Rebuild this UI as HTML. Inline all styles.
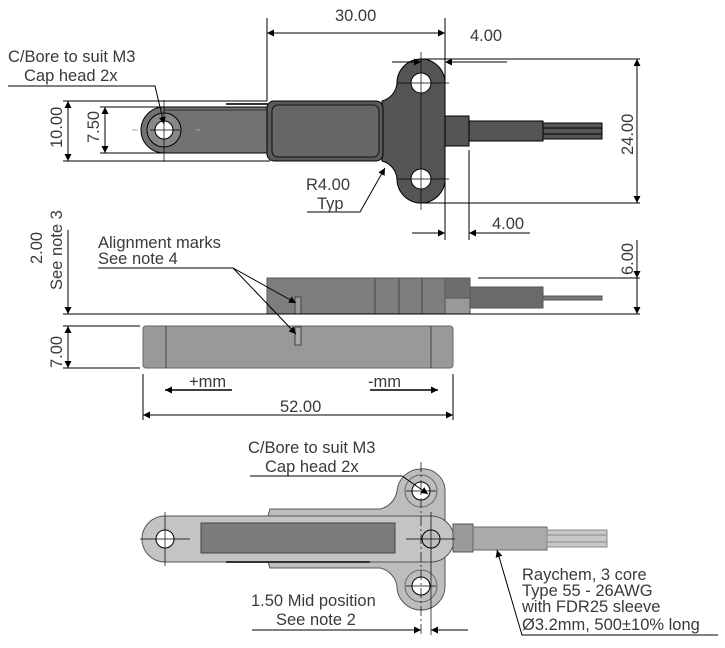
<!DOCTYPE html>
<html><head><meta charset="utf-8"><style>
html,body{margin:0;padding:0;background:#fff}
svg{display:block}
text{font-family:"Liberation Sans Narrow","Liberation Sans",sans-serif;fill:#3a3a3a;font-size:16.5px}
</style></head><body>
<svg width="725" height="648" viewBox="0 0 725 648" xmlns="http://www.w3.org/2000/svg">
<defs>
<marker id="a" viewBox="0 0 10 10" refX="10" refY="5" markerWidth="12" markerHeight="7" orient="auto-start-reverse" markerUnits="userSpaceOnUse"><path d="M0,0 L10,5 L0,10 z" fill="#000"/></marker>
</defs>
<g stroke="#000" stroke-width="1" fill="none">
<!-- ===== TOP VIEW ===== -->
<path d="M164,107 L268,107 L268,153 L164,153 A23,23 0 0 1 164,107 Z" fill="#727272"/>
<path d="M164,110 L268,110" stroke="#333"/>
<circle cx="164" cy="130" r="17" fill="#888"/>
<circle cx="164" cy="130" r="9" fill="#fff"/>
<line x1="226" y1="104" x2="268" y2="104" stroke-width="2" stroke="#333"/>
<path d="M421,59 A24,24 0 0 1 445,83 L445,116 L469,116 L469,146 L445,146 L445,179 A24,24 0 0 1 397,179 A20,20 0 0 0 382,161 L382,101 A20,20 0 0 0 397,83 A24,24 0 0 1 421,59 Z" fill="#555"/>
<rect x="267" y="101" width="116" height="60" rx="7" fill="#5a5a5a"/>
<rect x="272" y="105" width="107" height="52" rx="6" fill="#666" stroke="#111"/>
<circle cx="421" cy="83" r="10" fill="#fff"/>
<circle cx="421" cy="179" r="10" fill="#fff"/>
<rect x="469" y="121" width="74" height="20" fill="#555"/>
<rect x="543" y="123" width="59" height="16" fill="#555"/>
<line x1="543" y1="128" x2="602" y2="128"/><line x1="543" y1="134" x2="602" y2="134"/>
<line x1="164" y1="100" x2="164" y2="162" stroke-width="0.7"/>
<line x1="150" y1="130" x2="180" y2="130" stroke-width="0.7"/>
<line x1="421" y1="52" x2="421" y2="210" stroke-width="0.7"/>
<line x1="397" y1="83" x2="449" y2="83" stroke-width="0.7"/>
<line x1="397" y1="179" x2="449" y2="179" stroke-width="0.7"/>
<line x1="267" y1="18" x2="267" y2="101"/>
<line x1="445" y1="18" x2="445" y2="240"/>
<line x1="267" y1="33" x2="445" y2="33" marker-start="url(#a)" marker-end="url(#a)"/>
<line x1="392" y1="62" x2="421" y2="62" marker-end="url(#a)"/>
<line x1="507" y1="62" x2="445" y2="62" marker-end="url(#a)"/>
<line x1="421" y1="59" x2="640" y2="59"/>
<line x1="421" y1="203" x2="640" y2="203"/>
<line x1="637" y1="59" x2="637" y2="203" marker-start="url(#a)" marker-end="url(#a)"/>
<line x1="63" y1="101" x2="267" y2="101"/>
<line x1="63" y1="161" x2="270" y2="161"/>
<line x1="68" y1="101" x2="68" y2="161" marker-start="url(#a)" marker-end="url(#a)"/>
<line x1="100" y1="107" x2="164" y2="107"/>
<line x1="100" y1="153" x2="164" y2="153"/>
<line x1="105" y1="107" x2="105" y2="153" marker-start="url(#a)" marker-end="url(#a)"/>
<polyline points="8,86 155,86 164,124" marker-end="url(#a)"/>
<polyline points="307,212 360,212 385,168" marker-end="url(#a)"/>
<line x1="469" y1="150" x2="469" y2="240"/>
<line x1="412" y1="233" x2="445" y2="233" marker-end="url(#a)"/>
<line x1="530" y1="233" x2="469" y2="233" marker-end="url(#a)"/>

<!-- ===== SIDE VIEW ===== -->
<rect x="267" y="278" width="178" height="36" fill="#7e7e7e" stroke="#555"/>
<line x1="375" y1="278" x2="375" y2="314" stroke="#444"/>
<line x1="399" y1="278" x2="399" y2="314" stroke="#444"/>
<line x1="422" y1="278" x2="422" y2="314" stroke="#444"/>
<rect x="445" y="278" width="25" height="20" fill="#6e6e6e" stroke="#555"/>
<rect x="445" y="298" width="25" height="16" fill="#999" stroke="#555"/>
<rect x="470" y="287" width="73" height="21" fill="#6a6a6a" stroke="#555"/>
<rect x="543" y="296" width="59" height="4" fill="#777" stroke="#555"/>
<rect x="295" y="297" width="6" height="17" fill="#999" stroke="#444"/>
<line x1="63" y1="314" x2="640" y2="314"/>
<line x1="478" y1="278" x2="640" y2="278"/>
<line x1="637" y1="240" x2="637" y2="278" marker-end="url(#a)"/>
<line x1="637" y1="314" x2="637" y2="278"/>
<line x1="637" y1="296" x2="637" y2="314" marker-end="url(#a)"/>
<rect x="143" y="326" width="310" height="42" rx="3" fill="#999" stroke="#666"/>
<line x1="166" y1="326" x2="166" y2="368" stroke="#444"/>
<line x1="431" y1="326" x2="431" y2="368" stroke="#444"/>
<rect x="295" y="327" width="6" height="18" fill="#aaa" stroke="#444"/>
<line x1="68" y1="230" x2="68" y2="314" marker-end="url(#a)"/>
<line x1="63" y1="326" x2="140" y2="326"/>
<line x1="63" y1="368" x2="140" y2="368"/>
<line x1="68" y1="326" x2="68" y2="368" marker-start="url(#a)" marker-end="url(#a)"/>
<polyline points="98,268 233,268 296,303" marker-end="url(#a)"/>
<line x1="233" y1="268" x2="296" y2="334" marker-end="url(#a)"/>
<line x1="232" y1="390" x2="165" y2="390" marker-end="url(#a)" stroke-width="1.5"/>
<line x1="370" y1="390" x2="438" y2="390" marker-end="url(#a)" stroke-width="1.5"/>
<line x1="143" y1="374" x2="143" y2="420"/>
<line x1="453" y1="374" x2="453" y2="420"/>
<line x1="143" y1="415" x2="453" y2="415" marker-start="url(#a)" marker-end="url(#a)"/>

<!-- ===== BOTTOM VIEW ===== -->
<path d="M421,469 A22,22 0 0 1 445,491 L445,586 A24,24 0 0 1 397,586 A22,22 0 0 0 380,568 L270,568 L268,562 L268,516 L270,509 L380,509 A22,22 0 0 0 397,491 A24,24 0 0 1 421,469 Z" fill="#bdbdbd" stroke="#555"/>
<circle cx="421" cy="491" r="16" stroke="#666"/>
<circle cx="421" cy="586" r="16" stroke="#666"/>
<path d="M165,516 L431,516 A22,22 0 0 1 431,562 L165,562 A23,23 0 0 1 165,516 Z" fill="#c4c4c4" stroke="#555"/>
<rect x="201" y="523" width="194" height="30" fill="#7c7c7c" stroke="#444"/>
<line x1="226" y1="562" x2="370" y2="562" stroke-width="2" stroke="#333"/>
<circle cx="165" cy="539" r="9" fill="#fff"/>
<circle cx="431" cy="539" r="9" fill="#bdbdbd"/>
<circle cx="421" cy="491" r="9" fill="#fff"/>
<circle cx="421" cy="586" r="9" fill="#fff"/>
<rect x="453" y="524" width="20" height="28" fill="#999" stroke="#555"/>
<rect x="473" y="527" width="74" height="23" fill="#aaa" stroke="#666"/>
<rect x="547" y="530" width="60" height="17" fill="#c8c8c8" stroke="#888"/>
<line x1="547" y1="535" x2="607" y2="535" stroke="#888"/><line x1="547" y1="542" x2="607" y2="542" stroke="#888"/>
<line x1="140" y1="539" x2="190" y2="539" stroke-width="0.7"/>
<line x1="165" y1="512" x2="165" y2="566" stroke-width="0.7"/>
<line x1="406" y1="539" x2="455" y2="539" stroke-width="0.7"/>
<line x1="431" y1="512" x2="431" y2="635" stroke-width="0.7"/>
<line x1="421" y1="462" x2="421" y2="635" stroke-width="0.7" stroke-dasharray="10,3,2,3"/>
<line x1="406" y1="491" x2="436" y2="491" stroke-width="0.7"/>
<line x1="406" y1="586" x2="436" y2="586" stroke-width="0.7"/>
<polyline points="250,476 402,476 428,494" marker-end="url(#a)"/>
<polyline points="718,635 522,635 497,550" marker-end="url(#a)"/>
<line x1="252" y1="630" x2="421" y2="630" marker-end="url(#a)"/>
<line x1="468" y1="630" x2="431" y2="630" marker-end="url(#a)"/>
</g>
<g stroke="#aaa" stroke-width="1">
<line x1="132" y1="130" x2="138" y2="130"/><line x1="196" y1="130" x2="200" y2="130"/>
</g>

<text x="335" y="21">30.00</text>
<text x="470" y="41">4.00</text>
<text x="8" y="62">C/Bore to suit M3</text>
<text x="24" y="81">Cap head 2x</text>
<text x="306" y="190">R4.00</text>
<text x="317" y="209">Typ</text>
<text x="492" y="229">4.00</text>
<text transform="translate(62,148) rotate(-90)">10.00</text>
<text transform="translate(99,143) rotate(-90)">7.50</text>
<text transform="translate(633,155) rotate(-90)">24.00</text>
<text transform="translate(633,275) rotate(-90)">6.00</text>
<text transform="translate(42,264) rotate(-90)">2.00</text>
<text transform="translate(62,290) rotate(-90)">See note 3</text>
<text transform="translate(62,368) rotate(-90)">7.00</text>
<text x="98" y="248">Alignment marks</text>
<text x="98" y="264">See note 4</text>
<text x="189" y="387">+mm</text>
<text x="368" y="387">-mm</text>
<text x="280" y="412">52.00</text>
<text x="248" y="453">C/Bore to suit M3</text>
<text x="265" y="472">Cap head 2x</text>
<text x="251" y="606">1.50 Mid position</text>
<text x="276" y="625">See note 2</text>
<text x="522" y="580">Raychem, 3 core</text>
<text x="522" y="596">Type 55 - 26AWG</text>
<text x="522" y="612">with FDR25 sleeve</text>
<text x="522" y="630">Ø3.2mm, 500±10% long</text>
</svg>
</body></html>
